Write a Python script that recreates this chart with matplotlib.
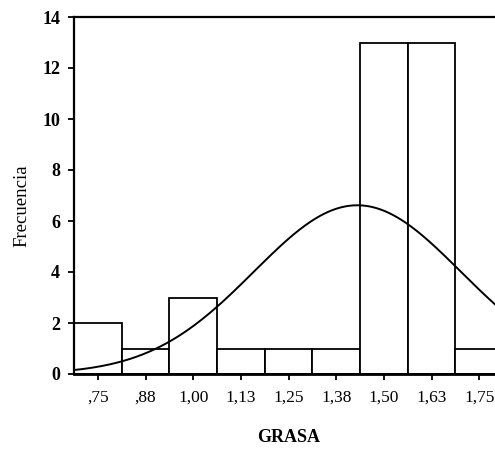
import numpy as np
import matplotlib.pyplot as plt

# Histograma de GRASA con curva normal ajustada
centros = [0.75, 0.875, 1.00, 1.125, 1.25, 1.375, 1.50, 1.625, 1.75]
frecuencias = [2, 1, 3, 1, 1, 1, 13, 13, 1]
etiquetas_x = [",75", ",88", "1,00", "1,13", "1,25", "1,38", "1,50", "1,63", "1,75"]
ancho = 0.125

plt.rcParams["font.family"] = ["Liberation Serif", "DejaVu Serif"]

fig = plt.figure(figsize=(4.95, 4.54), dpi=100)
ax = fig.add_axes([74 / 495, 80 / 454, 429 / 495, 357 / 454])

ax.bar(centros, frecuencias, width=ancho, facecolor="white",
       edgecolor="black", linewidth=1.3, zorder=2)

# Curva normal con la media y desviación de los datos agrupados
c = np.array(centros)
f = np.array(frecuencias)
n = f.sum()
media = (c * f).sum() / n
desv = np.sqrt((f * (c - media) ** 2).sum() / (n - 1))
xs = np.linspace(centros[0] - ancho / 2, centros[-1] + ancho / 2, 300)
ys = n * ancho / (desv * np.sqrt(2 * np.pi)) * np.exp(-0.5 * ((xs - media) / desv) ** 2)
ax.plot(xs, ys, color="black", linewidth=1.4, zorder=3)

ax.set_xlim(centros[0] - ancho / 2, centros[-1] + ancho / 2)
ax.set_ylim(0, 14)
ax.set_xticks(centros)
ax.set_xticklabels(etiquetas_x, fontsize=12.5)
ax.set_yticks(range(0, 15, 2))
ax.set_yticklabels([str(v) for v in range(0, 15, 2)], fontsize=13, fontweight="bold")
ax.tick_params(axis="both", direction="out", length=4, width=1.3, color="black")
ax.tick_params(axis="x", pad=7)
ax.tick_params(axis="y", pad=6)

for lado in ["left", "top"]:
    ax.spines[lado].set_linewidth(1.6)
ax.spines["bottom"].set_linewidth(2.0)
ax.spines["right"].set_visible(False)

fig.text(22 / 495, 1 - 206 / 454, "Frecuencia", rotation=90, ha="center",
         va="center", fontsize=13.5)
fig.text(289 / 495, 1 - 437 / 454, "GRASA", ha="center", va="center",
         fontsize=13, fontweight="bold")

fig.savefig("out.png", dpi=100)
